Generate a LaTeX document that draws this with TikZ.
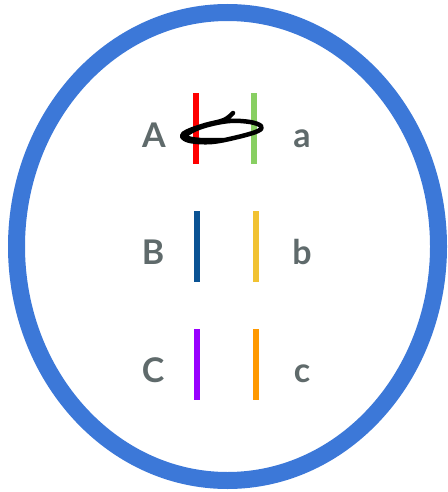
\documentclass[tikz,border=0pt]{standalone}
\usepackage{fontspec}
\setmainfont{Lato}
\usetikzlibrary{positioning}
\definecolor{ringblue}{HTML}{3C78D8}
\definecolor{labelgrey}{HTML}{5F6A6B}
\definecolor{barred}{HTML}{FF0000}
\definecolor{bargreen}{HTML}{88CF62}
\definecolor{barblue}{HTML}{0B5394}
\definecolor{baryellow}{HTML}{F1C232}
\definecolor{barpurple}{HTML}{9900FF}
\definecolor{barorange}{HTML}{FF9900}

\begin{document}
\begin{tikzpicture}[
  x=1pt, y=-1pt,
  bar/.style={fill=#1, inner sep=0pt, minimum width=6pt, minimum height=71pt, anchor=north},
  lbl/.style={font=\fontsize{34}{34}\selectfont\bfseries, text=labelgrey, inner sep=0pt, anchor=base}
]
\useasboundingbox (0,0) rectangle (447,492);
\draw[ringblue, line width=17pt] (227.5,246.5) ellipse [x radius=211pt, y radius=234pt];
% left and right bars
\node[bar=barred] (barA) at (196,93) {};
\node[bar=bargreen] (bara) at (254,93) {};
\node[bar=barblue] (barB) at (197,211) {};
\node[bar=baryellow] (barb) at (256,211) {};
\node[bar=barpurple] (barC) at (197,329) {};
\node[bar=barorange] (barc) at (256,329) {};
% labels
\node[lbl] (labA) at (154,147) {A};
\node[lbl] (laba) at (302,147) {a};
\node[lbl] (labB) at (153,264) {B};
\node[lbl] (labb) at (302,264) {b};
\node[lbl] (labC) at (153,382) {C};
\node[lbl] (labc) at (302,382) {c};
% scribble across the first pair
\draw[black, line width=4.5pt, line cap=round, line join=round]
  plot[smooth, tension=0.6] coordinates {(233,113) (224,120) (205,125) (188,131) (182,136)
    (190,141) (212,142) (238,137) (258,131) (261,126) (250,122) (230,121) (208,125)
    (192,131) (186,137) (200,140) (225,140)};
\end{tikzpicture}
\end{document}
